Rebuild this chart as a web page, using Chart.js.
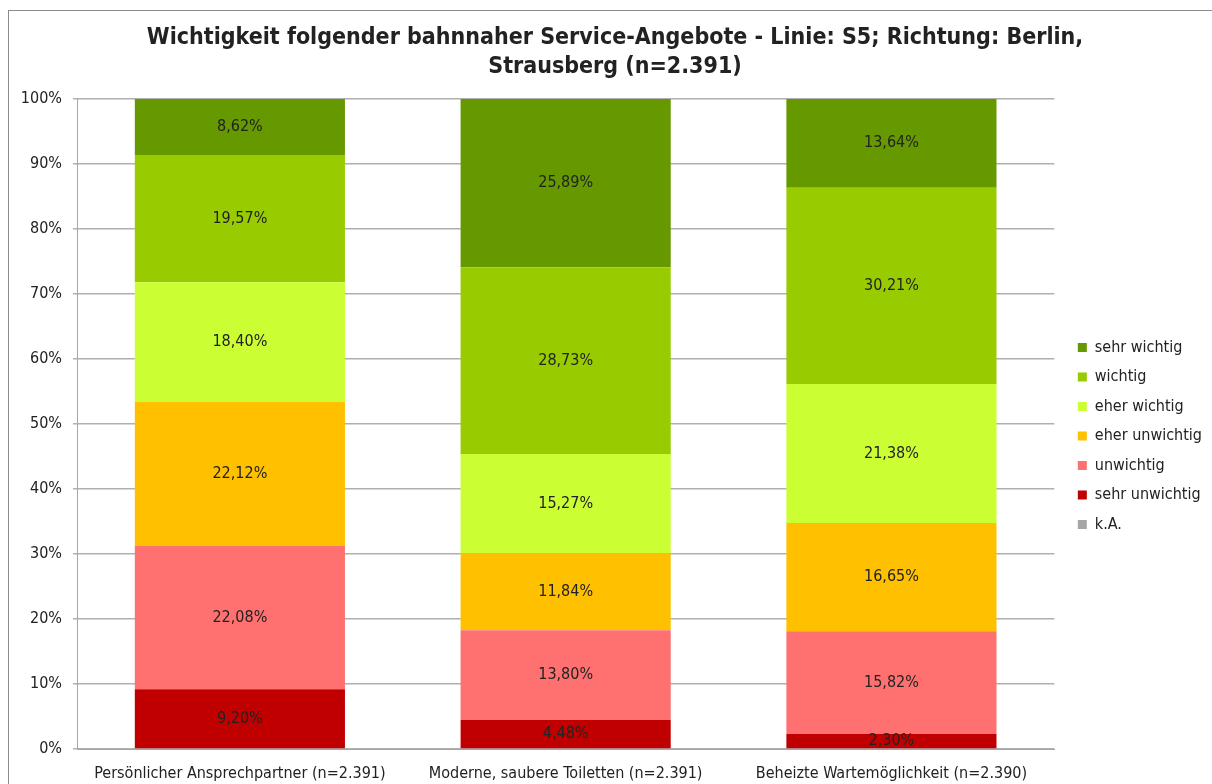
<!DOCTYPE html>
<html>
<head>
<meta charset="utf-8">
<script src="https://cdn.jsdelivr.net/npm/chart.js@4.4.1/dist/chart.umd.min.js"></script>
<style>
  html, body { margin: 0; padding: 0; background: #fff; }
  #wrap { width: 1212px; height: 784px; }
</style>
</head>
<body>
<div id="wrap"><canvas id="chart" width="1212" height="784"></canvas></div>
<script>
// Categories (x axis)
const categories = [
  "Persönlicher Ansprechpartner (n=2.391)",
  "Moderne, saubere Toiletten (n=2.391)",
  "Beheizte Wartemöglichkeit (n=2.390)"
];

// Series values in percent, bottom to top of each stack
const kA = [0, 0, 0];
const sehrUnwichtig = [9.20, 4.48, 2.30];
const unwichtig = [22.08, 13.80, 15.82];
const eherUnwichtig = [22.12, 11.84, 16.65];
const eherWichtig = [18.40, 15.27, 21.38];
const wichtig = [19.57, 28.73, 30.21];
const sehrWichtig = [8.62, 25.89, 13.64];

const yTicks = [0, 10, 20, 30, 40, 50, 60, 70, 80, 90, 100];

const FONT = "'DejaVu Sans Condensed', 'DejaVu Sans', sans-serif";
const TEXT = "#222222";

const series = [
  { label: "k.A.", data: kA, color: "#A6A6A6" },
  { label: "sehr unwichtig", data: sehrUnwichtig, color: "#C00000" },
  { label: "unwichtig", data: unwichtig, color: "#FF7171" },
  { label: "eher unwichtig", data: eherUnwichtig, color: "#FFC000" },
  { label: "eher wichtig", data: eherWichtig, color: "#CCFF33" },
  { label: "wichtig", data: wichtig, color: "#99CC00" },
  { label: "sehr wichtig", data: sehrWichtig, color: "#669900" }
];

// white background + thin frame round the chart
const framePlugin = {
  id: "frame",
  beforeDraw(chart) {
    const ctx = chart.ctx;
    ctx.save();
    ctx.fillStyle = "#fff";
    ctx.fillRect(0, 0, chart.width, chart.height);
    ctx.strokeStyle = "#8c8c8c";
    ctx.lineWidth = 1;
    ctx.strokeRect(8.5, 10.5, chart.width, chart.height);
    ctx.restore();
  }
};

// value labels in the middle of every segment
const valueLabels = {
  id: "valueLabels",
  afterDatasetsDraw(chart) {
    const ctx = chart.ctx;
    ctx.save();
    ctx.font = "16px " + FONT;
    ctx.fillStyle = TEXT;
    ctx.textAlign = "center";
    ctx.textBaseline = "middle";
    chart.data.datasets.forEach((ds, i) => {
      const meta = chart.getDatasetMeta(i);
      meta.data.forEach((bar, j) => {
        const v = ds.data[j];
        if (!v) return;
        const y = (bar.y + bar.base) / 2;
        ctx.fillText(v.toFixed(2).replace(".", ",") + "%", bar.x, y);
      });
    });
    ctx.restore();
  }
};

new Chart(document.getElementById("chart"), {
  type: "bar",
  data: {
    labels: categories,
    datasets: series.map((s) => ({
      label: s.label,
      data: s.data,
      backgroundColor: s.color,
      borderWidth: 0,
      barPercentage: 0.645,
      categoryPercentage: 1
    }))
  },
  options: {
    responsive: false,
    animation: false,
    layout: { padding: { left: 18, right: 0, top: 20, bottom: 0 } },
    plugins: {
      title: {
        display: true,
        text: [
          "Wichtigkeit folgender bahnnaher Service-Angebote - Linie: S5; Richtung: Berlin,",
          "Strausberg (n=2.391)"
        ],
        color: TEXT,
        font: { family: FONT, size: 23, weight: "bold", lineHeight: 1.26 },
        padding: { top: 4, bottom: 17 }
      },
      legend: {
        position: "right",
        reverse: true,
        title: { display: true, text: " ", font: { size: 10 }, padding: { top: 56, bottom: 0 } },
        labels: {
          color: TEXT,
          font: { family: FONT, size: 16 },
          boxWidth: 9,
          boxHeight: 9,
          padding: 13.5
        }
      },
      tooltip: { enabled: false }
    },
    scales: {
      x: {
        stacked: true,
        grid: { display: false },
        border: { display: true, color: "#a6a6a6", width: 1 },
        ticks: { color: TEXT, font: { family: FONT, size: 16 }, padding: 7, maxRotation: 0 },
        afterFit(scale) { scale.height = 35; }
      },
      y: {
        stacked: true,
        min: 0,
        max: 100,
        afterBuildTicks(scale) { scale.ticks = yTicks.map((v) => ({ value: v })); },
        grid: { color: "#b0b0b0", lineWidth: 1.5, drawTicks: true, tickLength: 4 },
        border: { display: true, color: "#a6a6a6", width: 1 },
        ticks: {
          color: TEXT,
          font: { family: FONT, size: 16 },
          padding: 11,
          callback: (v) => v + "%"
        },
        afterFit(scale) { scale.width = 59; }
      },
      // empty axis, only keeps a gap between plot and legend
      gap: {
        position: "right",
        display: true,
        grid: { display: false },
        border: { display: false },
        ticks: { display: false },
        afterFit(scale) { scale.width = 10; }
      }
    }
  },
  plugins: [framePlugin, valueLabels]
});
</script>
</body>
</html>
